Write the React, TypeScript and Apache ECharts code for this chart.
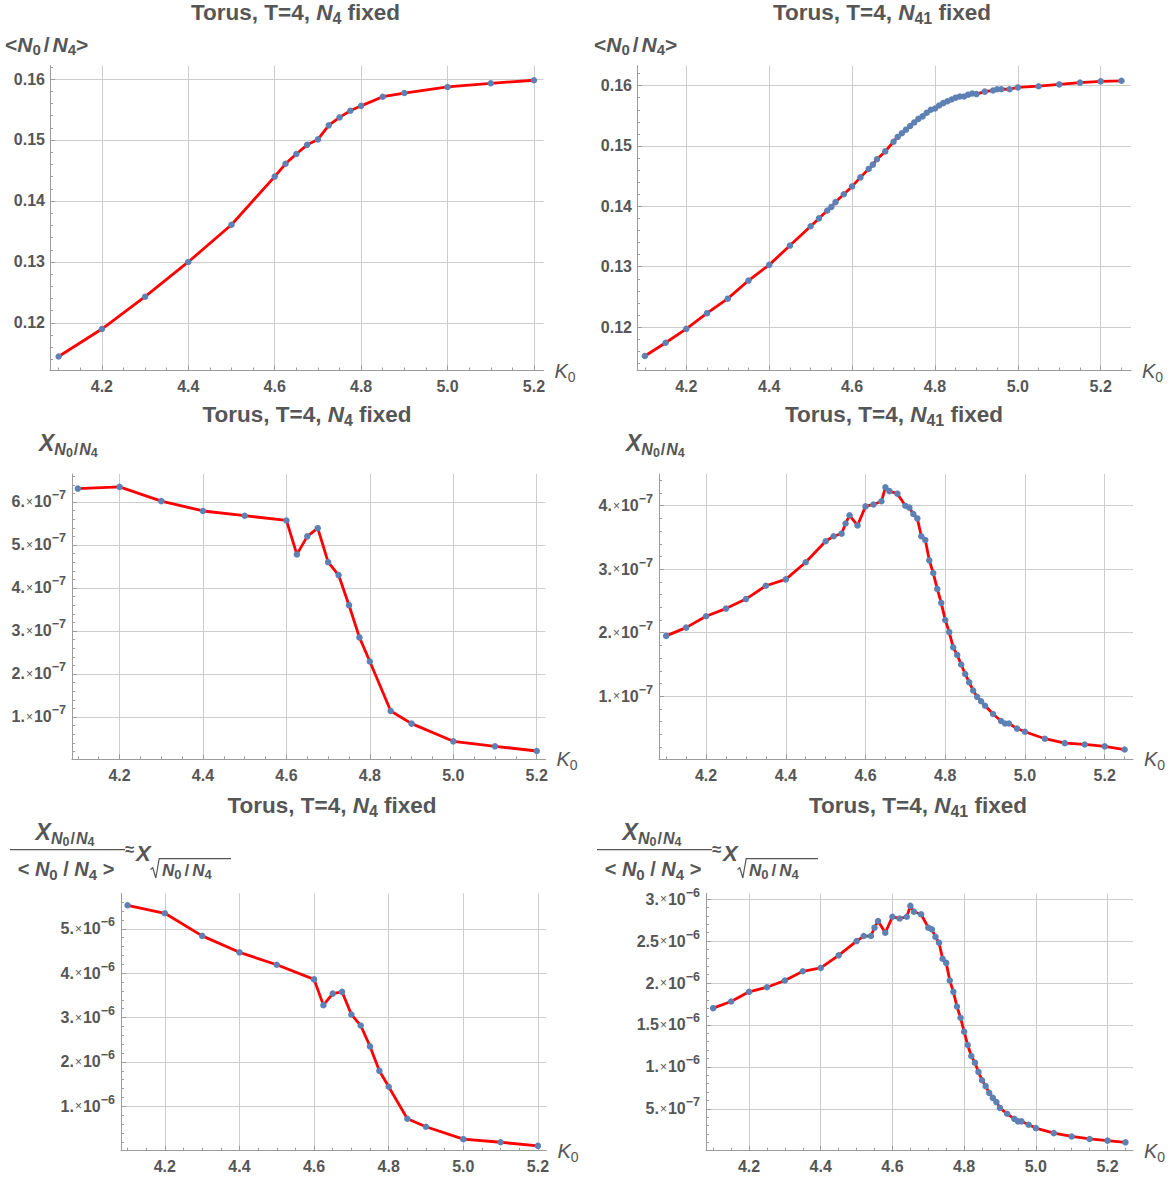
import React, { useEffect, useRef } from "react";
import * as echarts from "echarts";

// ---------------- data ----------------
// N4 fixed
const K0_N4 = [4.1, 4.2, 4.3, 4.4, 4.5, 4.6, 4.625, 4.65, 4.675, 4.7, 4.725, 4.75, 4.775, 4.8, 4.85, 4.9, 5.0, 5.1, 5.2];
const MEAN_N4 = [0.1145, 0.119, 0.1243, 0.13, 0.1361, 0.144, 0.1461, 0.1477, 0.1492, 0.1501, 0.1524, 0.1537, 0.1548, 0.1556, 0.1571, 0.1577, 0.1587, 0.1593, 0.1598];
const CHI_N4 = [6.31e-7, 6.35e-7, 6.02e-7, 5.79e-7, 5.68e-7, 5.57e-7, 4.78e-7, 5.2e-7, 5.39e-7, 4.6e-7, 4.3e-7, 3.6e-7, 2.85e-7, 2.29e-7, 1.14e-7, 0.845e-7, 0.434e-7, 0.318e-7, 0.209e-7];
const NORM_N4 = [5.53e-6, 5.35e-6, 4.84e-6, 4.47e-6, 4.19e-6, 3.86e-6, 3.28e-6, 3.54e-6, 3.58e-6, 3.07e-6, 2.82e-6, 2.35e-6, 1.8e-6, 1.44e-6, 0.72e-6, 0.54e-6, 0.26e-6, 0.19e-6, 0.11e-6];

// N41 fixed
const K0_N41 = [4.1, 4.15, 4.2, 4.25, 4.3, 4.35, 4.4, 4.45, 4.5, 4.52, 4.54, 4.55, 4.56, 4.58, 4.6, 4.62, 4.64, 4.65, 4.66, 4.68, 4.7, 4.71, 4.72, 4.73, 4.74, 4.75, 4.76, 4.77, 4.78, 4.79, 4.8, 4.81, 4.82, 4.83, 4.84, 4.85, 4.86, 4.87, 4.88, 4.89, 4.9, 4.92, 4.94, 4.95, 4.96, 4.98, 5.0, 5.05, 5.1, 5.15, 5.2, 5.25];
const MEAN_N41 = [0.1152, 0.1174, 0.1197, 0.1223, 0.1247, 0.1277, 0.1303, 0.1335, 0.1367, 0.138, 0.1393, 0.1399, 0.1407, 0.142, 0.1433, 0.1448, 0.1462, 0.1469, 0.1478, 0.1491, 0.1507, 0.1515, 0.1521, 0.1527, 0.1533, 0.1539, 0.1545, 0.1549, 0.1555, 0.156, 0.1562, 0.1567, 0.1571, 0.1574, 0.1577, 0.158, 0.1582, 0.1582, 0.1585, 0.1587, 0.1586, 0.159, 0.1592, 0.1594, 0.1594, 0.1594, 0.1597, 0.1599, 0.1602, 0.1605, 0.1607, 0.1608];
const CHI_N41 = [1.95e-7, 2.08e-7, 2.26e-7, 2.38e-7, 2.53e-7, 2.74e-7, 2.84e-7, 3.11e-7, 3.44e-7, 3.52e-7, 3.56e-7, 3.72e-7, 3.85e-7, 3.69e-7, 3.99e-7, 4.02e-7, 4.07e-7, 4.29e-7, 4.23e-7, 4.19e-7, 4.0e-7, 3.97e-7, 3.87e-7, 3.8e-7, 3.52e-7, 3.46e-7, 3.14e-7, 2.94e-7, 2.69e-7, 2.47e-7, 2.2e-7, 2.01e-7, 1.77e-7, 1.65e-7, 1.5e-7, 1.35e-7, 1.22e-7, 1.09e-7, 0.99e-7, 0.92e-7, 0.85e-7, 0.72e-7, 0.61e-7, 0.57e-7, 0.57e-7, 0.49e-7, 0.44e-7, 0.33e-7, 0.26e-7, 0.24e-7, 0.21e-7, 0.16e-7];
const NORM_N41 = [1.7e-6, 1.78e-6, 1.895e-6, 1.95e-6, 2.03e-6, 2.14e-6, 2.18e-6, 2.33e-6, 2.5e-6, 2.56e-6, 2.56e-6, 2.66e-6, 2.74e-6, 2.6e-6, 2.79e-6, 2.77e-6, 2.79e-6, 2.92e-6, 2.85e-6, 2.82e-6, 2.66e-6, 2.64e-6, 2.55e-6, 2.48e-6, 2.29e-6, 2.24e-6, 2.03e-6, 1.895e-6, 1.72e-6, 1.585e-6, 1.42e-6, 1.26e-6, 1.13e-6, 1.05e-6, 0.94e-6, 0.84e-6, 0.77e-6, 0.69e-6, 0.63e-6, 0.58e-6, 0.51e-6, 0.44e-6, 0.38e-6, 0.35e-6, 0.35e-6, 0.31e-6, 0.27e-6, 0.21e-6, 0.17e-6, 0.14e-6, 0.12e-6, 0.1e-6];

// tick labels
const X_TICKS = [4.2, 4.4, 4.6, 4.8, 5.0, 5.2];
const Y_TICKS_MEAN = [0.12, 0.13, 0.14, 0.15, 0.16];
const Y_TICKS_CHI_N4 = [1e-7, 2e-7, 3e-7, 4e-7, 5e-7, 6e-7];
const Y_TICKS_CHI_N41 = [1e-7, 2e-7, 3e-7, 4e-7];
const Y_TICKS_NORM_N4 = [1e-6, 2e-6, 3e-6, 4e-6, 5e-6];
const Y_TICKS_NORM_N41 = [5e-7, 1e-6, 1.5e-6, 2e-6, 2.5e-6, 3e-6];
const TITLE_SUBS = ["4", "41", "4", "41", "4", "41"];

// ---------------- style ----------------
const TXT = "#565656";
const AXC = "#9c9c9c";
const GRC = "#cdcdcd";
const FONT = '"Liberation Sans", Arial, Helvetica, sans-serif';
const RED = "#ff0000";
const DOT = "#5e81b5";

const PANELS = [
  { xs: K0_N4, ys: MEAN_N4, yTicks: Y_TICKS_MEAN, sci: false, left: 50, top: 65.6, right: 543.5, bottom: 370.5, xMin: 4.08, xMax: 5.222, yMin: 0.1122, yMax: 0.1622, tx: 295.5, ty: 12 },
  { xs: K0_N41, ys: MEAN_N41, yTicks: Y_TICKS_MEAN, sci: false, left: 637, top: 65.7, right: 1131, bottom: 370.5, xMin: 4.081, xMax: 5.273, yMin: 0.1128, yMax: 0.1633, tx: 882, ty: 12 },
  { xs: K0_N4, ys: CHI_N4, yTicks: Y_TICKS_CHI_N4, sci: true, left: 72, top: 474, right: 545.5, bottom: 759.3, xMin: 4.086, xMax: 5.221, yMin: 0.016e-7, yMax: 6.65e-7, tx: 307, ty: 414 },
  { xs: K0_N41, ys: CHI_N41, yTicks: Y_TICKS_CHI_N41, sci: true, left: 659, top: 474, right: 1133, bottom: 759.3, xMin: 4.082, xMax: 5.271, yMin: 0.006e-7, yMax: 4.5e-7, tx: 894, ty: 414 },
  { xs: K0_N4, ys: NORM_N4, yTicks: Y_TICKS_NORM_N4, sci: true, left: 121, top: 893.3, right: 546.5, bottom: 1150.7, xMin: 4.0825, xMax: 5.223, yMin: 0, yMax: 5.8e-6, tx: 332, ty: 805 },
  { xs: K0_N41, ys: NORM_N41, yTicks: Y_TICKS_NORM_N41, sci: true, left: 706, top: 893.3, right: 1133, bottom: 1150.7, xMin: 4.08, xMax: 5.271, yMin: 0, yMax: 3.07e-6, tx: 918, ty: 805 },
];

function tok(size: number, extra: any = {}) {
  return { fontSize: size, fontFamily: FONT, fill: TXT, color: TXT, ...extra };
}

function sciLabel(v: number) {
  const e = Math.floor(Math.log10(v) + 1e-9);
  const m = Math.round((v / Math.pow(10, e)) * 10) / 10;
  const ms = Number.isInteger(m) ? m + "." : m.toFixed(1);
  return `{m|${ms}}{t|×}{m|10}{p|−${-e}}`;
}

const SCI_RICH = {
  m: tok(16, { fontWeight: "bold", lineHeight: 26 }),
  t: tok(12, { lineHeight: 26, padding: [0, 1, 0, 1] }),
  p: tok(12.5, { fontWeight: "bold", lineHeight: 26, verticalAlign: "top" }),
};

const TITLE_RICH = {
  a: tok(22.5, { fontWeight: "bold", lineHeight: 28 }),
  n: tok(22.5, { fontWeight: "bold", fontStyle: "italic", lineHeight: 28 }),
  s: tok(16, { fontWeight: "bold", lineHeight: 28, verticalAlign: "bottom" }),
};

const MEAN_RICH = {
  b: tok(21, { fontWeight: "bold", lineHeight: 26 }),
  sl: tok(21, { fontWeight: "bold", lineHeight: 26, padding: [0, 3, 0, 3] }),
  n: tok(21, { fontWeight: "bold", fontStyle: "italic", lineHeight: 26 }),
  s: tok(15, { fontWeight: "bold", lineHeight: 26, verticalAlign: "bottom" }),
};

const CHI_RICH = {
  x: tok(23, { fontWeight: "bold", fontStyle: "italic", lineHeight: 32 }),
  sn: tok(16, { fontWeight: "bold", fontStyle: "italic", lineHeight: 32, verticalAlign: "bottom", padding: [0, 0, 2, 0] }),
  sl: tok(16, { fontWeight: "bold", lineHeight: 32, verticalAlign: "bottom", padding: [0, 1, 2, 1] }),
  ss: tok(12.5, { fontWeight: "bold", lineHeight: 32, verticalAlign: "bottom" }),
};

const DEN_RICH = {
  b: tok(20, { fontWeight: "bold", lineHeight: 26 }),
  n: tok(20, { fontWeight: "bold", fontStyle: "italic", lineHeight: 26 }),
  s: tok(15, { fontWeight: "bold", lineHeight: 26, verticalAlign: "bottom" }),
};

const RAD_RICH = {
  n: tok(17, { fontWeight: "bold", fontStyle: "italic", lineHeight: 22 }),
  sl: tok(17, { fontWeight: "bold", lineHeight: 22, padding: [0, 3, 0, 3] }),
  s: tok(13, { fontWeight: "bold", lineHeight: 22, verticalAlign: "bottom" }),
};

function textEl(x: number, y: number, text: string, rich: any, align = "left") {
  return { type: "text", x, y, silent: true, style: { text, rich, align, verticalAlign: "middle", fill: TXT, font: `bold 15px ${FONT}` } };
}

function fractionLabel(dx: number) {
  const els: any[] = [];
  els.push(textEl(65 + dx, 832, "{x|X}{sn|N}{ss|0}{sl|/}{sn|N}{ss|4}", CHI_RICH, "center"));
  els.push({ type: "line", silent: true, shape: { x1: 10 + dx, y1: 849.7, x2: 125 + dx, y2: 849.7 }, style: { stroke: TXT, lineWidth: 1.3 } });
  els.push(textEl(66 + dx, 868.5, "{b|< }{n|N}{s|0}{b| / }{n|N}{s|4}{b| >}", DEN_RICH, "center"));
  els.push({ type: "text", x: 125 + dx, y: 849, silent: true, style: { text: "≈", fill: TXT, font: `bold 17px ${FONT}`, align: "left", verticalAlign: "middle" } });
  els.push({ type: "text", x: 136 + dx, y: 853.5, silent: true, style: { text: "X", fill: TXT, font: `italic bold 22px ${FONT}`, align: "left", verticalAlign: "middle" } });
  els.push({
    type: "polyline",
    silent: true,
    shape: { points: [[150.5 + dx, 869.5], [152.8 + dx, 867.8], [155.8 + dx, 878], [159.2 + dx, 858.6], [231 + dx, 858.6]] },
    style: { stroke: TXT, lineWidth: 1.2, fill: "none" },
  });
  els.push(textEl(162 + dx, 870, "{n|N}{s|0}{sl|/}{n|N}{s|4}", RAD_RICH, "left"));
  return els;
}

function buildOption() {
  const grid: any[] = [];
  const xAxis: any[] = [];
  const yAxis: any[] = [];
  const series: any[] = [];
  PANELS.forEach((p, i) => {
    grid.push({ left: p.left, top: p.top, width: p.right - p.left, height: p.bottom - p.top, containLabel: false, outerBoundsMode: "none" });
    xAxis.push({
      type: "value",
      gridIndex: i,
      min: p.xMin,
      max: p.xMax,
      splitNumber: 5,
      axisLine: { show: true, onZero: false, lineStyle: { color: AXC, width: 1 } },
      axisTick: { show: true, inside: true, length: 5, customValues: X_TICKS, lineStyle: { color: AXC, width: 1 } },
      minorTick: { show: true, splitNumber: 4, length: 3, lineStyle: { color: AXC, width: 1 } },
      axisLabel: { customValues: X_TICKS, formatter: (v: number) => v.toFixed(1), margin: 8, color: TXT, fontSize: 16, fontWeight: "bold", fontFamily: FONT },
      splitLine: { show: true, lineStyle: { color: GRC, width: 1 } },
      name: "{k|K}{s|0}",
      nameLocation: "end",
      nameGap: 11,
      nameTextStyle: {
        color: TXT,
        fontFamily: FONT,
        rich: {
          k: { fontSize: 20, fontStyle: "italic", color: TXT, fontFamily: FONT, lineHeight: 26 },
          s: { fontSize: 14, color: TXT, fontFamily: FONT, lineHeight: 26, verticalAlign: "bottom" },
        },
      },
    });
    yAxis.push({
      type: "value",
      gridIndex: i,
      min: p.yMin,
      max: p.yMax,
      splitNumber: 5,
      axisLine: { show: true, onZero: false, lineStyle: { color: AXC, width: 1 } },
      axisTick: { show: true, inside: true, length: 5, customValues: p.yTicks, lineStyle: { color: AXC, width: 1 } },
      minorTick: { show: true, splitNumber: 5, length: 3, lineStyle: { color: AXC, width: 1 } },
      axisLabel: p.sci
        ? { customValues: p.yTicks, formatter: sciLabel, margin: 6, rich: SCI_RICH, color: TXT, fontFamily: FONT }
        : { customValues: p.yTicks, formatter: (v: number) => v.toFixed(2), margin: 5, color: TXT, fontSize: 16, fontWeight: "bold", fontFamily: FONT },
      splitLine: { show: true, lineStyle: { color: GRC, width: 1 } },
    });
    series.push({
      type: "line",
      xAxisIndex: i,
      yAxisIndex: i,
      data: p.xs.map((x, j) => [x, p.ys[j]]),
      symbol: "circle",
      symbolSize: 6.5,
      showSymbol: true,
      showAllSymbol: true,
      lineStyle: { color: RED, width: 2.8, join: "round" },
      itemStyle: { color: DOT, borderWidth: 0 },
      emphasis: { disabled: true },
      z: 3,
    });
  });

  const graphic: any[] = [];
  PANELS.forEach((p, i) => {
    graphic.push(textEl(p.tx, p.ty, `{a|Torus, T=4, }{n|N}{s|${TITLE_SUBS[i]}}{a| fixed}`, TITLE_RICH, "center"));
  });
  graphic.push(textEl(5, 44, "{b|<}{n|N}{s|0}{sl|/}{n|N}{s|4}{b|>}", MEAN_RICH, "left"));
  graphic.push(textEl(594, 44, "{b|<}{n|N}{s|0}{sl|/}{n|N}{s|4}{b|>}", MEAN_RICH, "left"));
  graphic.push(textEl(39, 443, "{x|X}{sn|N}{ss|0}{sl|/}{sn|N}{ss|4}", CHI_RICH, "left"));
  graphic.push(textEl(626, 443, "{x|X}{sn|N}{ss|0}{sl|/}{sn|N}{ss|4}", CHI_RICH, "left"));
  graphic.push(...fractionLabel(0));
  graphic.push(...fractionLabel(587));

  return {
    animation: false,
    backgroundColor: "#ffffff",
    grid,
    xAxis,
    yAxis,
    series,
    graphic,
    tooltip: { show: false },
  };
}

export default function App() {
  const ref = useRef<HTMLDivElement>(null);
  useEffect(() => {
    if (!ref.current) return;
    const chart = echarts.init(ref.current, null, { renderer: "svg" });
    chart.setOption(buildOption() as any);
    return () => chart.dispose();
  }, []);
  return <div ref={ref} style={{ position: "absolute", left: 0, top: 0, width: 1175, height: 1178, background: "#fff" }} />;
}
